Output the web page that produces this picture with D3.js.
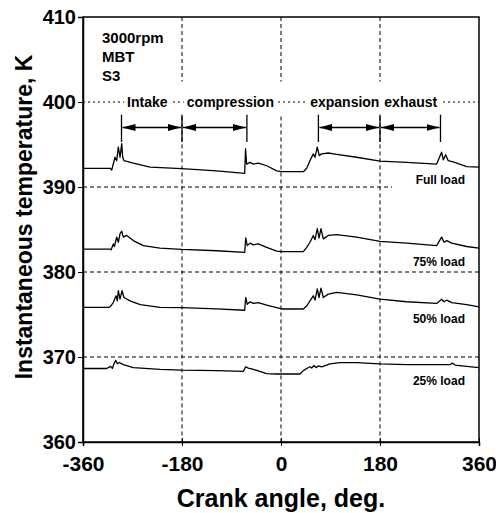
<!DOCTYPE html>
<html>
<head>
<meta charset="utf-8">
<script src="https://cdn.jsdelivr.net/npm/d3@7"></script>
<style>
  body { margin: 0; background: #fff; }
  svg { display: block; }
  text { font-family: "Liberation Sans", Arial, sans-serif; font-weight: bold; fill: #000; }
</style>
</head>
<body>
<svg id="chart"></svg>
<script>
// crank angle (deg) vs instantaneous temperature (K), one trace per load
var fullLoad = [[-360,392.2],[-311,392.2],[-307.8,392.0],[-301.8,393.5],[-298.7,393.1],[-295.8,394.7],[-292.7,393.5],[-289.6,395.1],[-287.8,393.5],[-285.5,393.1],[-268.5,392.8],[-238,392.35],[-180.5,392.15],[-117,391.9],[-66,391.6],[-64.5,394.5],[-62.5,392.7],[-56.4,392.9],[-50.4,392.7],[-41.3,392.8],[-26,392.5],[-7.8,391.9],[1.3,391.8],[40.6,391.8],[46.7,392.2],[52.7,393.1],[58.7,393.9],[61.8,393.5],[66,394.7],[69.6,393.7],[74,393.9],[86,394.0],[101.3,393.85],[137.6,393.5],[180,393.05],[228.5,392.9],[283,392.7],[292,394.1],[295,393.2],[299.4,393.8],[304,393.1],[313,392.95],[337.6,392.4],[360,392.35]];
var load75 = [[-360,382.7],[-311,382.7],[-309,382.6],[-304.9,383.3],[-303,383.0],[-298.7,384.1],[-295.8,383.5],[-292.7,384.5],[-289.6,384.8],[-286.7,384.1],[-280.5,384.3],[-268.5,383.7],[-250.4,383.1],[-220,382.8],[-180.5,382.65],[-117,382.5],[-66,382.3],[-64.2,384.0],[-61.3,383.1],[-56.4,383.4],[-50.4,383.2],[-41.3,383.3],[-26,382.9],[-7.8,382.45],[1.3,382.4],[40.6,382.4],[46.7,382.9],[52.7,383.5],[58.7,384.3],[61.8,383.8],[66,385.1],[69.1,384.0],[72.7,385.1],[76.9,383.9],[86,384.3],[101.3,384.4],[137.6,384.1],[180,383.6],[228.5,383.4],[283,383.1],[292,384.1],[296.4,383.5],[301.3,383.7],[310.4,383.4],[337.6,383.0],[360,382.8]];
var load50 = [[-360,375.85],[-314,375.85],[-311,375.9],[-307.8,376.15],[-304.9,376.4],[-300,377.2],[-297.6,376.6],[-295.8,377.8],[-292.7,376.8],[-289,377.8],[-285.5,377.0],[-274.5,376.6],[-256,376.15],[-220,375.85],[-180.5,375.8],[-117,375.65],[-66,375.5],[-64.2,377.0],[-61.3,376.2],[-56.4,376.5],[-50.4,376.3],[-41.3,376.4],[-26,376.1],[-7.8,375.8],[1.3,375.65],[40.6,375.65],[46.7,376.0],[52.7,376.6],[58.7,377.2],[61.8,376.7],[66,378.0],[69.1,377.0],[72.7,378.1],[76.9,377.0],[86,377.4],[101.3,377.6],[137.6,377.3],[180,376.8],[228.5,376.5],[283,376.3],[292,376.8],[296.4,376.5],[301.3,376.7],[310.4,376.4],[337.6,376.15],[360,375.9]];
var load25 = [[-360,368.65],[-317,368.65],[-314,368.75],[-309.7,368.9],[-306.7,368.65],[-303.6,369.2],[-300.5,369.6],[-297.6,369.2],[-294,369.35],[-286.7,369.1],[-268.5,368.75],[-220,368.55],[-180.5,368.45],[-117,368.4],[-68.5,368.3],[-64.2,368.85],[-59.5,368.7],[-50.4,368.55],[-26,368.05],[-7.8,368.0],[34.5,368.0],[40.6,368.4],[46.7,368.65],[52.7,368.85],[55.8,368.7],[60,369.0],[63.6,368.75],[67.8,368.95],[74,368.85],[89,369.2],[107.3,369.35],[137.6,369.35],[180,369.2],[228.5,369.1],[307.3,369.1],[311.5,369.3],[316.4,369.05],[337.6,368.9],[360,368.75]];

var series = [fullLoad, load75, load50, load25];
var seriesNames = ["Full load", "75% load", "50% load", "25% load"];
var seriesLabelY = [390.3, 380.75, 374.0, 366.7];

// stroke phases: boundaries and arrow text
var phaseNames = ["Intake", "compression", "expansion", "exhaust"];
var phaseStart = [-290, -180, 68, 180];
var phaseEnd = [-180, -62, 180, 290];
var phaseLabelX = [-243, -92, 116, 236];
var phaseBounds = [-290, -180, -62, 68, 180, 290];

var xTicks = [-360, -180, 0, 180, 360];
var yTicks = [360, 370, 380, 390, 400, 410];
var infoLines = ["3000rpm", "MBT", "S3"];

var W = 496, H = 513,
    margin = { top: 17, right: 17, bottom: 71, left: 83 },
    width = W - margin.left - margin.right,
    height = H - margin.top - margin.bottom;

var svg = d3.select("#chart").attr("width", W).attr("height", H);

svg.append("defs").append("marker")
    .attr("id", "head")
    .attr("viewBox", "0 0 13 7")
    .attr("refX", 13).attr("refY", 3.5)
    .attr("markerWidth", 13).attr("markerHeight", 7)
    .attr("markerUnits", "userSpaceOnUse")
    .attr("orient", "auto-start-reverse")
  .append("path")
    .attr("d", "M0,0L13,3.5L0,7Z")
    .attr("fill", "#000");

var g = svg.append("g").attr("transform", "translate(" + margin.left + "," + margin.top + ")");

var x = d3.scaleLinear().domain([-360, 360]).range([0, width]);
var y = d3.scaleLinear().domain([360, 410]).range([height, 0]);

// vertical dashed grid, broken where the phase text sits
var vBreak = [[410, 402.4], [398.3, 360]];
[-180, 0, 180].forEach(function(v) {
  vBreak.forEach(function(seg) {
    g.append("line")
      .attr("x1", x(v)).attr("x2", x(v))
      .attr("y1", y(seg[0])).attr("y2", y(seg[1]))
      .attr("stroke", "#000").attr("stroke-width", 1)
      .attr("stroke-dasharray", "4,3");
  });
});

// horizontal grid
[370, 380, 400].forEach(function(v) {
  g.append("line")
    .attr("x1", 0).attr("x2", width)
    .attr("y1", y(v)).attr("y2", y(v))
    .attr("stroke", "#000").attr("stroke-width", 1)
    .attr("stroke-dasharray", v == 400 ? "2,3" : "4,3");
});
g.append("line")
  .attr("x1", 0).attr("x2", x(202))
  .attr("y1", y(390)).attr("y2", y(390))
  .attr("stroke", "#000").attr("stroke-width", 1)
  .attr("stroke-dasharray", "4,3");

// frame
g.append("rect")
  .attr("width", width).attr("height", height)
  .attr("fill", "none").attr("stroke", "#000").attr("stroke-width", 1.5);

// axes
var yAxis = g.append("g")
  .call(d3.axisLeft(y).tickValues(yTicks).tickSize(5).tickPadding(2).tickFormat(function(d) { return String(d); }));
yAxis.select(".domain").attr("stroke-width", 1.5);
yAxis.selectAll("text").style("font-size", "20px");

var xAxis = g.append("g")
  .attr("transform", "translate(0," + height + ")")
  .call(d3.axisBottom(x).tickValues(xTicks).tickSize(4).tickPadding(10).tickFormat(function(d) { return String(d); }));
xAxis.select(".domain").attr("stroke-width", 1.5);
xAxis.selectAll("text").style("font-size", "21px");
xAxis.selectAll(".tick").append("line").attr("y2", -4).attr("stroke", "#000");

// temperature traces
var line = d3.line()
  .x(function(d) { return x(d[0]); })
  .y(function(d) { return y(d[1]); });

g.selectAll(".trace")
  .data(series)
  .enter().append("path")
    .attr("class", "trace")
    .attr("d", line)
    .attr("fill", "none")
    .attr("stroke", "#000")
    .attr("stroke-width", 1.3)
    .attr("stroke-linejoin", "round");

// phase boundary ticks and arrows
g.selectAll(".bound")
  .data(phaseBounds)
  .enter().append("line")
    .attr("x1", function(d) { return x(d); }).attr("x2", function(d) { return x(d); })
    .attr("y1", y(398.5)).attr("y2", y(395.3))
    .attr("stroke", "#000").attr("stroke-width", 1.3);

g.selectAll(".arrow")
  .data(phaseNames)
  .enter().append("line")
    .attr("x1", function(d, i) { return x(phaseStart[i]) + 1; })
    .attr("x2", function(d, i) { return x(phaseEnd[i]) - 1; })
    .attr("y1", y(397)).attr("y2", y(397))
    .attr("stroke", "#000").attr("stroke-width", 1.5)
    .attr("marker-start", "url(#head)")
    .attr("marker-end", "url(#head)");

// text with white boxes behind so grid lines stop short of it
function boxedText(sel, pad) {
  sel.each(function() {
    var b = this.getBBox();
    d3.select(this.parentNode).insert("rect", function() { return this; }.bind(this))
      .attr("x", b.x - pad).attr("y", b.y + 1)
      .attr("width", b.width + pad * 2).attr("height", b.height - 2)
      .attr("fill", "#fff");
  });
}

var phaseText = g.selectAll(".phase")
  .data(phaseNames)
  .enter().append("g").append("text")
    .attr("x", function(d, i) { return x(phaseLabelX[i]); })
    .attr("y", y(400) + 5)
    .attr("text-anchor", "middle")
    .style("font-size", "14px")
    .text(function(d) { return d; });
boxedText(phaseText, 3);

g.selectAll(".load")
  .data(seriesNames)
  .enter().append("text")
    .attr("x", x(334.5))
    .attr("y", function(d, i) { return y(seriesLabelY[i]); })
    .attr("text-anchor", "end")
    .style("font-size", "12px")
    .text(function(d) { return d; });

g.selectAll(".info")
  .data(infoLines)
  .enter().append("text")
    .attr("x", 19)
    .attr("y", function(d, i) { return 26 + i * 19; })
    .style("font-size", "15px")
    .text(function(d) { return d; });

// axis titles
svg.append("text")
  .attr("x", margin.left + width / 2)
  .attr("y", 507)
  .attr("text-anchor", "middle")
  .style("font-size", "25px")
  .text("Crank angle, deg.");

svg.append("text")
  .attr("transform", "translate(32," + 217 + ") rotate(-90)")
  .attr("text-anchor", "middle")
  .style("font-size", "23px")
  .text("Instantaneous temperature, K");
</script>
</body>
</html>
